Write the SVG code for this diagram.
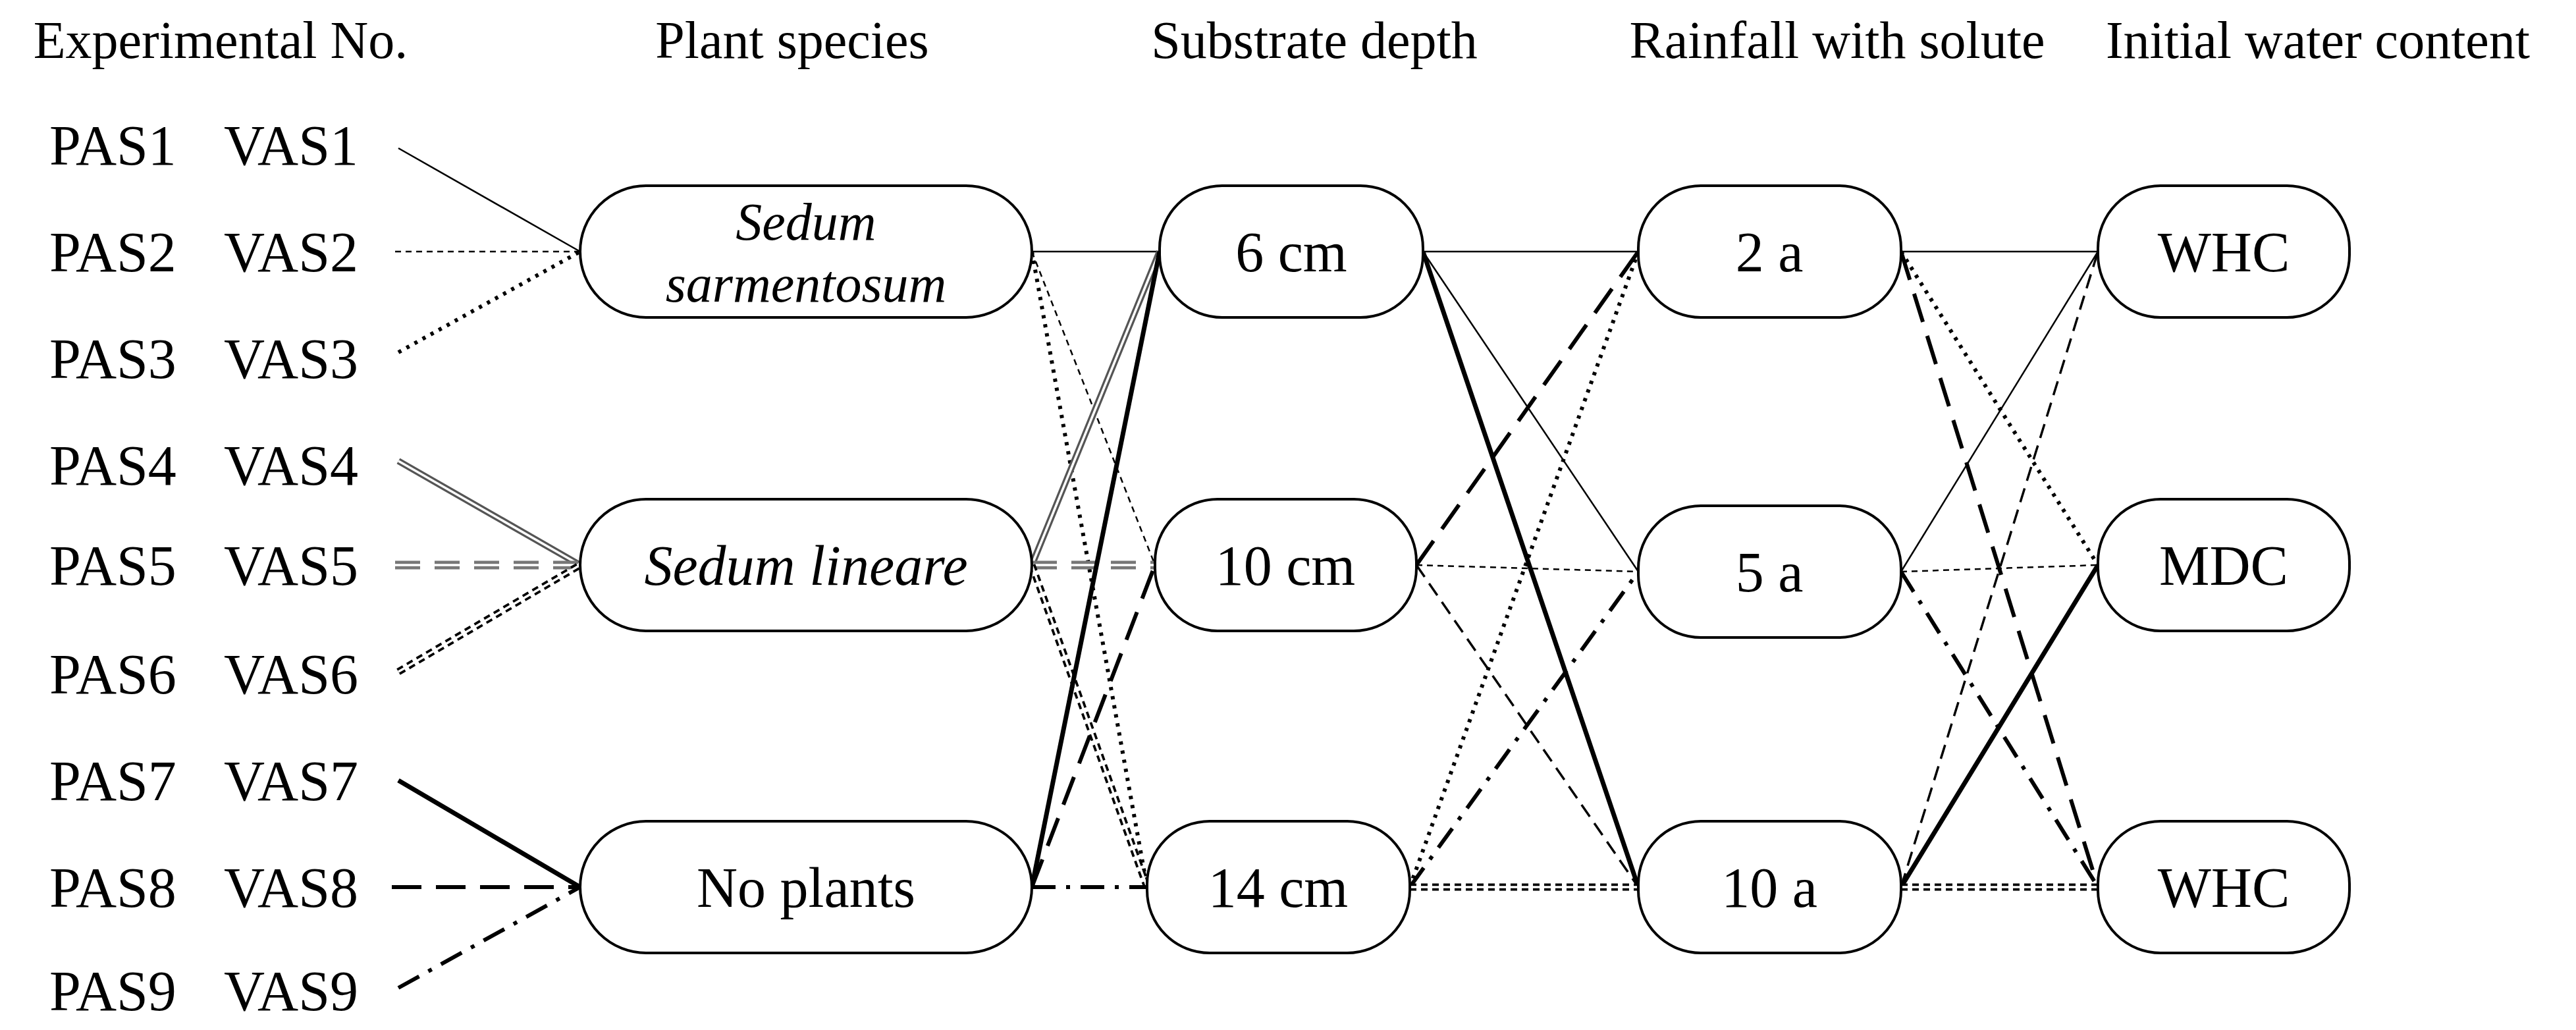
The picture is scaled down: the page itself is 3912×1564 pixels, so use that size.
<svg xmlns="http://www.w3.org/2000/svg" width="3912" height="1564" viewBox="0 0 3912 1564">
<style>
text{font-family:"Liberation Serif","DejaVu Serif","Times New Roman",serif;font-size:86px;fill:#000}
.h{text-anchor:middle;font-size:80px}
.n rect{fill:#fff;stroke:#000;stroke-width:4}
.n text{text-anchor:middle}
.it{font-style:italic}
#c line{fill:none}
.s1{stroke:#000;stroke-width:2.5}
.s2{stroke:#000;stroke-width:2.5;stroke-dasharray:9 7}
.s3{stroke:#000;stroke-width:6;stroke-dasharray:5 9}
.s4a{stroke:#555;stroke-width:10}
.s4b{stroke:#fff;stroke-width:3.5}
.s5a{stroke:#777;stroke-width:13;stroke-dasharray:38 22}
.s5b{stroke:#fff;stroke-width:3.5;stroke-dasharray:38 22}
.s6a{stroke:#000;stroke-width:11;stroke-dasharray:10 7}
.s6b{stroke:#fff;stroke-width:3.5}
.s7{stroke:#000;stroke-width:7}
.s8{stroke:#000;stroke-width:6;stroke-dasharray:45 22}
.s9{stroke:#000;stroke-width:6;stroke-dasharray:36 16 6 16}
.s10{stroke:#000;stroke-width:3.5;stroke-dasharray:22 12}
</style>
<g id="headers">
<text class="h" x="335" y="88">Experimental No.</text>
<text class="h" x="1203" y="88">Plant species</text>
<text class="h" x="1996" y="88">Substrate depth</text>
<text class="h" x="2790" y="88">Rainfall with solute</text>
<text class="h" x="3520" y="88">Initial water content</text>
</g>
<g id="labels">
<text x="75" y="250">PAS1</text><text x="340" y="250">VAS1</text>
<text x="75" y="412">PAS2</text><text x="340" y="412">VAS2</text>
<text x="75" y="574">PAS3</text><text x="340" y="574">VAS3</text>
<text x="75" y="736">PAS4</text><text x="340" y="736">VAS4</text>
<text x="75" y="888">PAS5</text><text x="340" y="888">VAS5</text>
<text x="75" y="1053">PAS6</text><text x="340" y="1053">VAS6</text>
<text x="75" y="1215">PAS7</text><text x="340" y="1215">VAS7</text>
<text x="75" y="1377">PAS8</text><text x="340" y="1377">VAS8</text>
<text x="75" y="1534">PAS9</text><text x="340" y="1534">VAS9</text>
</g>
<g id="c">
<line class="s1" x1="605" y1="225" x2="881" y2="382"/>
<line class="s2" x1="600" y1="382" x2="881" y2="382"/>
<line class="s3" x1="605" y1="535" x2="881" y2="382"/>
<line class="s4a" x1="605" y1="700" x2="881" y2="858"/><line class="s4b" x1="605" y1="700" x2="881" y2="858"/>
<line class="s5a" x1="600" y1="858" x2="881" y2="858"/><line class="s5b" x1="600" y1="858" x2="881" y2="858"/>
<line class="s6a" x1="605" y1="1020" x2="881" y2="858"/><line class="s6b" x1="605" y1="1020" x2="881" y2="858"/>
<line class="s7" x1="605" y1="1185" x2="881" y2="1347"/>
<line class="s8" x1="595" y1="1347" x2="881" y2="1347"/>
<line class="s9" x1="605" y1="1500" x2="881" y2="1347"/>

<line class="s1" x1="1567" y1="382" x2="1761" y2="382"/>
<line class="s2" x1="1567" y1="382" x2="1754" y2="858"/>
<line class="s3" x1="1567" y1="382" x2="1742" y2="1347"/>
<line class="s4a" x1="1567" y1="858" x2="1761" y2="382"/><line class="s4b" x1="1567" y1="858" x2="1761" y2="382"/>
<line class="s5a" x1="1567" y1="858" x2="1754" y2="858"/><line class="s5b" x1="1567" y1="858" x2="1754" y2="858"/>
<line class="s6a" x1="1567" y1="858" x2="1742" y2="1347"/><line class="s6b" x1="1567" y1="858" x2="1742" y2="1347"/>
<line class="s7" x1="1567" y1="1347" x2="1761" y2="382"/>
<line class="s8" x1="1567" y1="1347" x2="1754" y2="858"/>
<line class="s9" x1="1567" y1="1347" x2="1742" y2="1347"/>

<line class="s1" x1="2161" y1="382" x2="2488" y2="382"/>
<line class="s1" x1="2161" y1="382" x2="2488" y2="868"/>
<line class="s7" x1="2161" y1="382" x2="2488" y2="1347"/>
<line class="s8" x1="2151" y1="858" x2="2488" y2="382"/>
<line class="s2" x1="2151" y1="858" x2="2488" y2="868"/>
<line class="s10" x1="2151" y1="858" x2="2488" y2="1347"/>
<line class="s3" x1="2141" y1="1347" x2="2488" y2="382"/>
<line class="s9" x1="2141" y1="1347" x2="2488" y2="868"/>
<line class="s6a" x1="2141" y1="1347" x2="2488" y2="1347"/><line class="s6b" x1="2141" y1="1347" x2="2488" y2="1347"/>

<line class="s1" x1="2887" y1="382" x2="3186" y2="382"/>
<line class="s3" x1="2887" y1="382" x2="3186" y2="858"/>
<line class="s8" x1="2887" y1="382" x2="3186" y2="1347"/>
<line class="s1" x1="2887" y1="868" x2="3186" y2="382"/>
<line class="s2" x1="2887" y1="868" x2="3186" y2="858"/>
<line class="s9" x1="2887" y1="868" x2="3186" y2="1347"/>
<line class="s10" x1="2887" y1="1347" x2="3186" y2="382"/>
<line class="s7" x1="2887" y1="1347" x2="3186" y2="858"/>
<line class="s6a" x1="2887" y1="1347" x2="3186" y2="1347"/><line class="s6b" x1="2887" y1="1347" x2="3186" y2="1347"/>
</g>
<g id="n1" class="n"><rect x="881" y="282" width="686" height="200" rx="100"/><text class="it" x="1224" y="364" style="font-size:80px">Sedum</text><text class="it" x="1224" y="458" style="font-size:80px">sarmentosum</text></g>
<g id="n2" class="n"><rect x="881" y="758" width="686" height="200" rx="100"/><text class="it" x="1224" y="888">Sedum lineare</text></g>
<g id="n3" class="n"><rect x="881" y="1247" width="686" height="200" rx="100"/><text x="1224" y="1377">No plants</text></g>
<g id="n4" class="n"><rect x="1761" y="282" width="400" height="200" rx="95"/><text x="1961" y="412">6 cm</text></g>
<g id="n5" class="n"><rect x="1754" y="758" width="397" height="200" rx="95"/><text x="1952" y="888">10 cm</text></g>
<g id="n6" class="n"><rect x="1742" y="1247" width="399" height="200" rx="95"/><text x="1941" y="1377">14 cm</text></g>
<g id="n7" class="n"><rect x="2488" y="282" width="399" height="200" rx="95"/><text x="2687" y="412">2 a</text></g>
<g id="n8" class="n"><rect x="2488" y="768" width="399" height="200" rx="95"/><text x="2687" y="898">5 a</text></g>
<g id="n9" class="n"><rect x="2488" y="1247" width="399" height="200" rx="95"/><text x="2687" y="1377">10 a</text></g>
<g id="n10" class="n"><rect x="3186" y="282" width="382" height="200" rx="95"/><text x="3377" y="412">WHC</text></g>
<g id="n11" class="n"><rect x="3186" y="758" width="382" height="200" rx="95"/><text x="3377" y="888">MDC</text></g>
<g id="n12" class="n"><rect x="3186" y="1247" width="382" height="200" rx="95"/><text x="3377" y="1377">WHC</text></g>
</svg>
